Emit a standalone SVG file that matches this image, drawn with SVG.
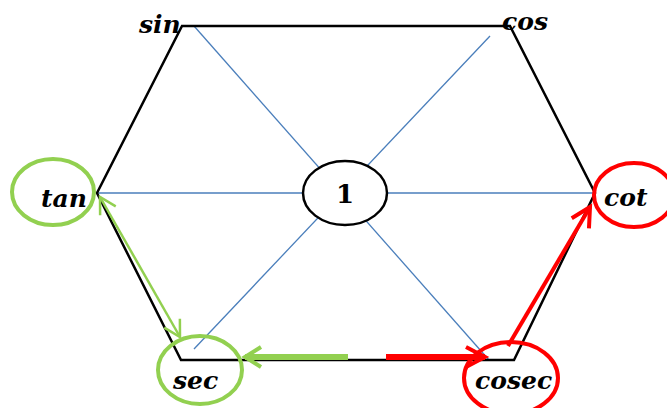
<svg xmlns="http://www.w3.org/2000/svg" width="667" height="408" viewBox="0 0 667 408">
<style>
.lbl{font-family:"DejaVu Serif","Liberation Serif",serif;font-weight:bold;font-style:italic;font-size:25px;fill:#000}
.one{font-family:"DejaVu Serif","Liberation Serif",serif;font-weight:bold;font-size:26px;fill:#000}
.blue{stroke:#4a7ebb;stroke-width:1.3;fill:none}
.green{stroke:#92d050;fill:none}
.red{stroke:#ff0000;fill:none}
</style>
<defs>
<marker id="gthin" markerUnits="userSpaceOnUse" markerWidth="40" markerHeight="40" refX="0" refY="0" orient="auto-start-reverse" overflow="visible">
<path d="M-16,-9 L0,0 L-16,9" fill="none" stroke="#92d050" stroke-width="2.5"/>
</marker>
<marker id="gthick" markerUnits="userSpaceOnUse" markerWidth="40" markerHeight="40" refX="0" refY="0" orient="auto" overflow="visible">
<path d="M-16,-10 L0,0 L-16,10" fill="none" stroke="#92d050" stroke-width="4"/>
</marker>
<marker id="rthick" markerUnits="userSpaceOnUse" markerWidth="40" markerHeight="40" refX="0" refY="0" orient="auto" overflow="visible">
<path d="M-19,-10 L0,0 L-19,10" fill="none" stroke="#ff0000" stroke-width="4"/>
</marker>
</defs>
<g id="connectors">
<line class="blue" x1="194" y1="26" x2="489" y2="360"/>
<line class="blue" x1="490" y1="36" x2="194" y2="349"/>
<line class="blue" x1="97" y1="193" x2="595" y2="193"/>
<path d="M182,26 L510,26 L595,193 L514,360 L181,360 L97,193 Z" fill="none" stroke="#000" stroke-width="2.5" stroke-linejoin="miter"/>
<line class="green" stroke-width="2.5" x1="100" y1="197" x2="180" y2="337" marker-start="url(#gthin)" marker-end="url(#gthin)"/>
<line class="green" stroke-width="6" x1="348" y1="357" x2="245" y2="357" marker-end="url(#gthick)"/>
<line class="red" stroke-width="6" x1="386" y1="357" x2="485" y2="357" marker-end="url(#rthick)"/>
<line class="red" stroke-width="4" x1="508" y1="346" x2="590" y2="207" marker-end="url(#rthick)"/>
</g>
<g id="node-1">
<ellipse cx="345" cy="193" rx="42" ry="32" fill="#fff" stroke="#000" stroke-width="2.5"/>
<text class="one" x="345" y="203" text-anchor="middle">1</text>
</g>
<g id="node-sin"><text class="lbl" x="139" y="33">sin</text></g>
<g id="node-cos"><text class="lbl" x="502" y="30">cos</text></g>
<g id="node-tan">
<ellipse class="green" stroke-width="4" cx="53" cy="192" rx="41" ry="33"/>
<text class="lbl" x="41" y="207">tan</text>
</g>
<g id="node-cot">
<ellipse class="red" stroke-width="4" cx="634" cy="195" rx="40" ry="32"/>
<text class="lbl" x="604" y="206">cot</text>
</g>
<g id="node-sec">
<ellipse class="green" stroke-width="4" cx="200" cy="370" rx="42" ry="34"/>
<text class="lbl" x="173" y="389">sec</text>
</g>
<g id="node-cosec">
<ellipse class="red" stroke-width="4" cx="511" cy="378" rx="47" ry="36"/>
<text class="lbl" x="475" y="389">cosec</text>
</g>
</svg>
